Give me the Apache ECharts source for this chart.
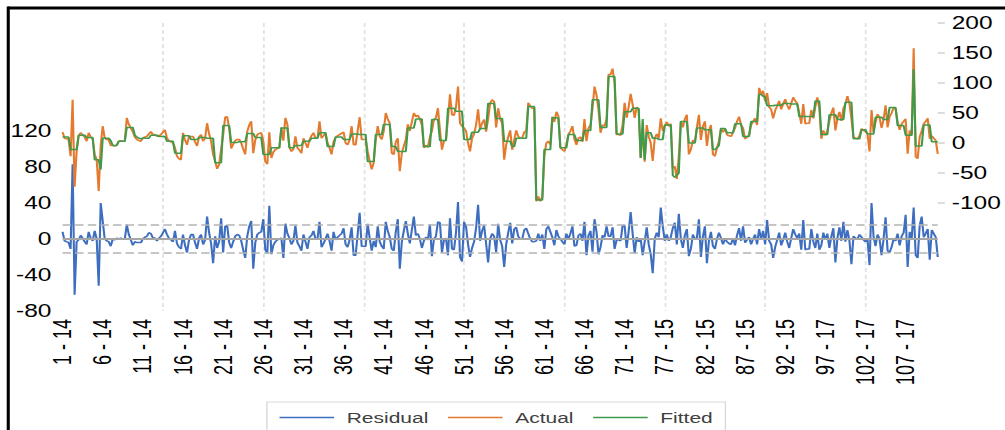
<!DOCTYPE html>
<html>
<head>
<meta charset="utf-8">
<script src="https://cdn.jsdelivr.net/npm/echarts@6/dist/echarts.min.js"></script>
<style>
  html, body { margin: 0; padding: 0; background: #fff; overflow: hidden; }
  /* the chart is laid out narrower and widened horizontally */
  #chart { width: 718px; height: 430px; transform: scaleX(1.3997); transform-origin: 0 0; }
</style>
</head>
<body>
<div id="chart"></div>
<script>
// observation labels shown every 20 observations ("id - year")
const tickLabels = ['1 - 14', '6 - 14', '11 - 14', '16 - 14', '21 - 14', '26 - 14', '31 - 14', '36 - 14',
  '41 - 14', '46 - 14', '51 - 14', '56 - 14', '61 - 14', '66 - 14', '71 - 14', '77 - 15', '82 - 15',
  '87 - 15', '92 - 15', '97 - 17', '102 - 17', '107 - 17'];
const obsPerTick = 20;

// actual values (right axis)
const actual = [
  18, 8, 7, 6, -22, 72, -73, -14, 12, 17,
  14, 10, 3, 17, 10, 7, -19, -28, -80, -4,
  28, 8, 6, 5, -4, -4, -5, -3, 3, 4,
  3, 3, 42, 31, 25, 19, 10, 6, 4, 3,
  8, 10, 11, 15, 19, 14, 14, 11, 12, 14,
  18, 22, 8, 4, 2, 0, -8, -22, -26, -28,
  17, 5, -3, 11, 11, 11, 2, -5, 10, 14,
  3, 8, 33, 15, 3, -19, -30, -43, -36, -10,
  14, 43, 44, 25, -9, -2, 4, 6, 6, 0,
  -10, -19, 19, 30, 36, -17, 5, 14, 16, 17,
  3, -31, -35, 18, -25, -15, -11, -9, -8, 26,
  4, 42, 31, -7, -14, -10, 11, -8, -12, -17,
  8, 0, -8, 5, 12, 17, 8, 8, 36, 8,
  12, 17, 0, -8, -19, 2, 9, 12, 14, 16,
  18, 0, -3, 5, 28, -3, -3, 20, 43, 6,
  6, 6, -14, -30, -44, -33, 5, 28, 11, 6,
  20, 50, 40, 33, -17, -19, 2, 8, -47, -17,
  -5, 6, 31, 20, 35, 50, 44, 46, 40, 30,
  -8, -4, -7, 10, 20, 39, 42, 58, 22, -11,
  3, 5, 40, 81, 47, 46, 60, 94, 33, 28,
  25, 20, 0, -14, 8, 15, 30, 56, 22, 33,
  39, 19, 40, 66, 72, 69, 26, 58, 40, 33,
  -28, -3, 10, 21, -11, 5, 21, 11, 8, 8,
  18, 20, 67, 61, 58, 58, -97, -89, -97, -90,
  -22, 0, 3, -3, 44, 35, 52, 45, -8, -11,
  -14, -2, 14, 20, 28, 6, -3, 8, 10, 2,
  40, 3, 25, 30, 58, 94, 80, 55, 17, 30,
  28, 40, 114, 114, 124, 100, 14, 14, 13, 30,
  67, 42, 60, 82, 64, 42, 60, 55, -25, 22,
  -31, 30, 11, 0, -30, 8, 15, 8, 41, 20,
  28, 35, 28, 32, -42, -39, -60, -22, 36, 26,
  40, 47, -19, -11, 5, 0, 26, 47, 5, 28,
  36, -5, 20, 30, -19, -22, -8, 3, 25, 18,
  24, 14, 12, 11, 18, 25, 36, 44, 30, 25,
  7, 10, 13, 30, 36, 41, 30, 92, 81, 87,
  70, 83, 60, 56, 41, 54, 62, 70, 56, 65,
  73, 63, 56, 66, 76, 70, 66, 50, 32, 65,
  32, 33, 33, 55, 41, 60, 76, 58, 7, 21,
  13, 20, 37, 50, 59, 21, 40, 52, 37, 58,
  65, 78, 66, 40, 10, 8, 7, 12, 24, 21,
  19, 15, -14, 55, 18, 35, 48, 43, 25, 39,
  63, 26, 44, 50, 59, 57, 35, 22, 32, 36,
  40, -18, 21, 13, 158, -23, -26, 10, 20, 32,
  36, 41, 7, 12, 8, 4, -18
];

// fitted values (right axis)
const fitted = [
  10, 10, 10, 10, -11, -11, -11, -11, 13, 13,
  13, 13, 9, 9, 9, 9, -28, -28, -28, -44,
  8, 8, 8, 8, 4, -4, -4, -4, 3, 3,
  3, 3, 26, 26, 26, 26, 13, 10, 8, 7,
  8, 8, 8, 8, 13, 13, 13, 13, 11, 11,
  11, 11, 3, 3, 3, 3, -17, -17, -17, -17,
  12, 12, 12, 12, 6, 6, 6, 6, 9, 9,
  9, 9, 8, 8, 8, 8, -33, -33, -33, -33,
  29, 29, 29, 29, 1, 1, 1, 1, 2, 2,
  2, 2, 16, 16, 16, 16, 9, 9, 9, 9,
  -19, -19, -19, -19, -8, -8, -8, -8, -8, 25,
  25, 25, 25, -8, -8, -8, -4, -4, -4, -4,
  3, 3, 3, 3, 8, 8, 8, 8, 17, 17,
  17, 17, -6, -6, -6, -6, 10, 10, 10, 10,
  6, 6, 6, 6, 15, 15, 15, 15, 14, 14,
  14, 14, -31, -31, -31, -31, 14, 14, 14, 14,
  31, 31, 31, 31, -6, -6, -6, -14, -14, -14,
  -14, -14, 25, 25, 25, 25, 40, 40, 40, 40,
  -6, -6, -6, -6, 39, 39, 39, 39, 4, 4,
  4, 4, 58, 58, 58, 58, 53, 53, 53, 53,
  6, 6, 6, 6, 18, 18, 18, 18, 24, 24,
  24, 24, 66, 66, 66, 66, 41, 41, 41, 41,
  3, 3, 3, 3, -6, -6, 8, 8, 8, 8,
  8, 8, 61, 61, 61, 61, -95, -95, -95, -95,
  -11, -11, -11, -11, 42, 42, 42, 42, -8, -8,
  -8, -8, 14, 14, 14, 14, 4, 4, 4, 4,
  21, 21, 21, 21, 72, 72, 72, 72, 26, 26,
  26, 26, 111, 111, 111, 111, 15, 15, 15, 15,
  52, 52, 52, 52, 58, 58, 58, 58, -25, 40,
  -28, 17, 17, 17, 8, 8, 8, 6, 6, 6,
  30, 30, 30, 30, -54, -57, -54, -50, 36, 36,
  36, 36, 0, 0, 0, 0, 25, 25, 25, 25,
  22, 22, 22, 22, -11, -11, -8, -4, 24, 24,
  24, 17, 17, 17, 17, 32, 32, 32, 32, 11,
  11, 11, 11, 36, 36, 36, 36, 81, 81, 78,
  76, 62, 62, 62, 62, 63, 63, 63, 63, 66,
  66, 66, 66, 65, 65, 65, 65, 44, 44, 44,
  44, 44, 44, 44, 44, 70, 70, 70, 14, 14,
  14, 14, 47, 47, 47, 47, 39, 39, 39, 39,
  68, 68, 68, 68, 7, 7, 7, 7, 22, 22,
  22, 15, 15, 15, 15, 43, 43, 43, 43, 39,
  39, 39, 59, 59, 59, 59, 29, 29, 29, 29,
  13, 13, 13, 13, 123, -5, -5, -5, -5, 30,
  30, 30, 30, 2, 2, 2, 2
];

// residuals (left axis)
const residual = [
  8, -2, -3, -4, -11, 83, -62, -3, -1, 4,
  1, -3, -6, 8, 1, -2, 9, 0, -52, 40,
  20, 0, -2, -3, -8, 0, -1, 1, 0, 1,
  0, 0, 16, 5, -1, -7, -3, -4, -4, -4,
  0, 2, 3, 7, 6, 1, 1, -2, 1, 3,
  7, 11, 5, 1, -1, -3, 9, -5, -9, -11,
  5, -7, -15, -1, 5, 5, -4, -11, 1, 5,
  -6, -1, 25, 7, -5, -27, 3, -10, -3, 23,
  -15, 14, 15, -4, -10, -3, 3, 5, 4, -2,
  -12, -21, 3, 14, 20, -33, -4, 5, 7, 8,
  22, -12, -16, 37, -17, -7, -3, -1, 0, 1,
  -21, 17, 6, 1, -6, -2, 15, -4, -8, -13,
  5, -3, -11, 2, 4, 9, 0, 0, 19, -9,
  -5, 0, 6, -2, -13, 8, -1, 2, 4, 6,
  12, -6, -9, -1, 13, -18, -18, 5, 29, -8,
  -8, -8, 17, 1, -13, -2, -9, 14, -3, -8,
  -11, 19, 9, 2, -11, -13, 8, 22, -33, -3,
  9, 20, 6, -5, 10, 25, 4, 6, 0, -10,
  -2, 2, -1, 16, -19, 0, 3, 19, 18, -15,
  -1, 1, -18, 23, -11, -12, 7, 41, -20, -25,
  19, 14, -6, -20, -10, -3, 12, 38, -2, 9,
  15, -5, -26, 0, 6, 3, -15, 17, -1, -8,
  -31, -6, 7, 18, -5, 11, 13, 3, 0, 0,
  10, 12, 6, 0, -3, -3, -2, 6, -2, 5,
  -11, 11, 14, 8, 2, -7, 10, 3, 0, -3,
  -6, 6, 0, 6, 14, -8, -7, 4, 6, -2,
  19, -18, 4, 9, -14, 22, 8, -17, -9, 4,
  2, 14, 3, 3, 13, -11, -1, -1, -2, 15,
  15, -10, 8, 30, 6, -16, 2, -3, 0, -18,
  -3, 13, -6, -17, -38, 0, 7, 2, 35, 14,
  -2, 5, -2, 2, 12, 18, -6, 28, 0, -10,
  4, 11, -19, -11, 5, 0, 1, 22, -20, 3,
  14, -27, -2, 8, -8, -11, 0, 7, 1, -6,
  0, -3, -5, -6, 1, -7, 4, 12, -2, 14,
  -4, -1, 2, -6, 0, 5, -6, 11, 0, 9,
  -6, 21, -2, -6, -21, -9, -1, 7, -7, -1,
  7, -3, -10, 1, 11, 5, 1, 6, -12, 21,
  -12, -11, -11, 11, -3, -10, 6, -12, -7, 7,
  -1, 6, -10, 3, 12, -26, 1, 13, -2, 19,
  -3, 10, -2, -28, 3, 1, 0, 5, 2, -1,
  -3, 0, -29, 40, 3, -8, 5, 0, -18, 0,
  24, -13, -15, -9, 0, -2, 6, -7, 3, 7,
  27, -31, 8, 0, 35, -18, -21, 15, 25, 2,
  6, 11, -23, 10, 6, 2, -20
];

// standard error of the regression, drawn as the +/- band around zero
const residualSE = 15.6;

const leftTicksShown = 120;                       // left axis labels stop here
const rightTickValues = [-100, -50, 0, 50, 100, 150, 200];

const categories = residual.map((_, i) =>
  i % obsPerTick === 0 ? tickLabels[i / obsPerTick] : 'obs ' + (i + 1));

const FONT = 'Liberation Sans';
const COLORS = { Residual: '#3e6ebf', Actual: '#e47a2e', Fitted: '#3f9b4b' };
const chart = echarts.init(document.getElementById('chart'), null, { renderer: 'svg' });

chart.setOption({
  animation: false,
  backgroundColor: '#ffffff',
  grid: { left: 44.7, right: 45.9, top: 23, bottom: 119, containLabel: false },
  legend: {
    data: ['Residual', 'Actual', 'Fitted'].map((name) => ({ name, icon: 'rect' })),
    left: 190.7,
    top: 402,
    padding: [8, 9, 20, 9],
    itemGap: 14,
    itemWidth: 39,
    itemHeight: 1.4,
    borderColor: '#d9d9d9',
    borderWidth: 1,
    textStyle: { fontFamily: FONT, fontSize: 15, color: '#404040', padding: [0, 0, 0, 4] }
  },
  xAxis: {
    type: 'category',
    data: categories,
    boundaryGap: false,
    axisLine: { show: false },
    axisTick: { show: false },
    axisLabel: {
      rotate: 90,
      interval: obsPerTick - 1,
      margin: 8,
      fontFamily: FONT,
      fontSize: 18,
      color: '#000000'
    },
    splitLine: {
      show: true,
      interval: (idx) => idx > 0 && idx % 50 === 0,
      lineStyle: { color: '#e2e2e2', type: [4, 3], width: 1.3 }
    }
  },
  yAxis: [
    {
      type: 'value',
      position: 'left',
      min: -80,
      max: 240,
      interval: 40,
      axisLine: { show: false },
      axisTick: { show: false },
      splitLine: { show: false },
      axisLabel: {
        margin: 8,
        fontFamily: FONT,
        fontSize: 17.5,
        color: '#000000',
        formatter: (v) => (v <= leftTicksShown ? String(v) : '')
      }
    },
    {
      type: 'value',
      position: 'right',
      min: -280,
      max: 200,
      axisLine: { show: false },
      splitLine: { show: false },
      axisTick: {
        show: true,
        inside: false,
        length: 5,
        customValues: rightTickValues,
        lineStyle: { color: '#d0d0d0', width: 1.5 }
      },
      axisLabel: {
        margin: 10,
        customValues: rightTickValues,
        fontFamily: FONT,
        fontSize: 17.5,
        color: '#000000'
      }
    }
  ],
  series: [
    {
      name: 'Residual',
      type: 'line',
      yAxisIndex: 0,
      data: residual,
      symbol: 'none',
      z: 2,
      color: COLORS.Residual,
      lineStyle: { width: 1.5, color: COLORS.Residual },
      markLine: {
        silent: true,
        symbol: 'none',
        label: { show: false },
        data: [
          { yAxis: 0, lineStyle: { type: 'solid', color: '#a6a6a6', width: 2 } },
          { yAxis: residualSE, lineStyle: { type: [6, 3], color: '#b4b4b4', width: 1.5 } },
          { yAxis: -residualSE, lineStyle: { type: [6, 3], color: '#b4b4b4', width: 1.5 } }
        ]
      }
    },
    {
      name: 'Actual',
      type: 'line',
      yAxisIndex: 1,
      data: actual,
      symbol: 'none',
      z: 3,
      color: COLORS.Actual,
      lineStyle: { width: 1.5, color: COLORS.Actual }
    },
    {
      name: 'Fitted',
      type: 'line',
      yAxisIndex: 1,
      data: fitted,
      symbol: 'none',
      z: 4,
      color: COLORS.Fitted,
      lineStyle: { width: 1.5, color: COLORS.Fitted }
    }
  ],
  graphic: [
    { type: 'line', silent: true, shape: { x1: 5.9, y1: 8, x2: 720, y2: 8 },
      style: { stroke: '#000000', lineWidth: 3 } },
    { type: 'line', silent: true, shape: { x1: 5.9, y1: 6.5, x2: 5.9, y2: 432 },
      style: { stroke: '#000000', lineWidth: 2.2 } }
  ]
});
</script>
</body>
</html>
